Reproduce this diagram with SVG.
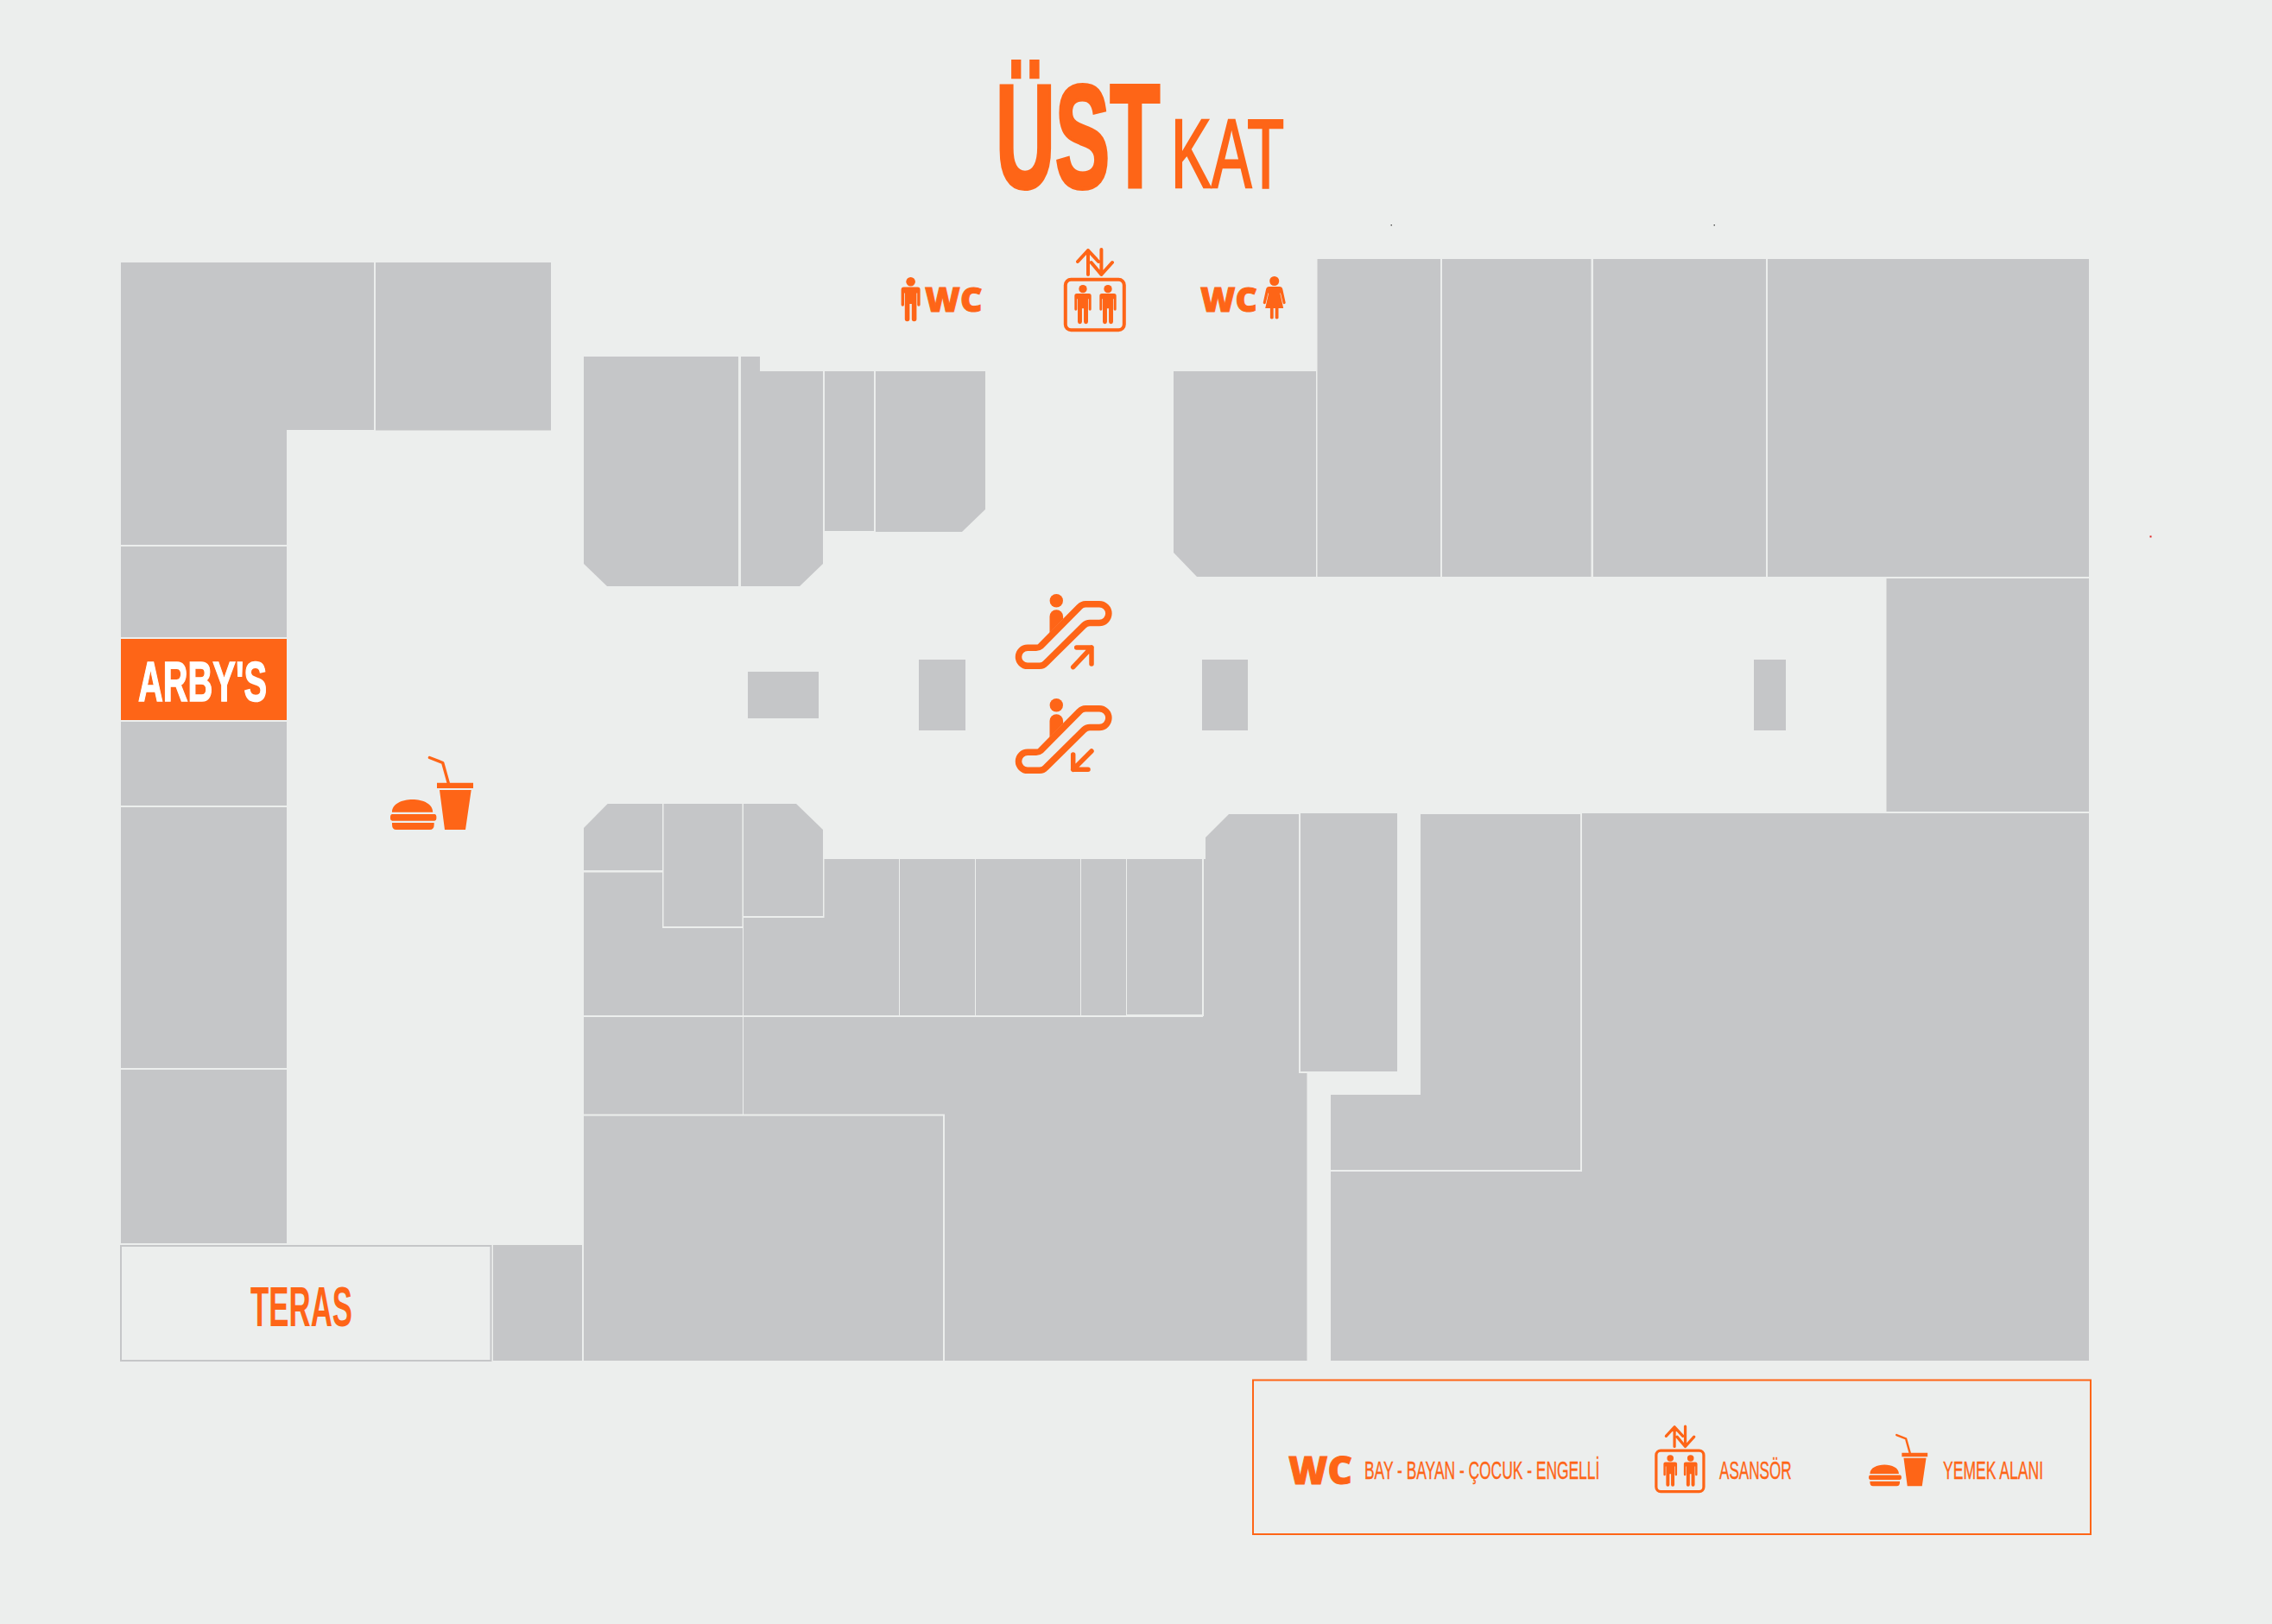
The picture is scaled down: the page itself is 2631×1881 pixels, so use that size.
<svg xmlns="http://www.w3.org/2000/svg" width="2631" height="1881" viewBox="0 0 2631 1881">
<style>
.b{fill:#c5c6c8}
.o{fill:#fe6517}
.ln{fill:none;stroke:#fe6517;stroke-linecap:round;stroke-linejoin:round}
text{font-family:"Liberation Sans",Arial,sans-serif;fill:#fe6517}
.bold{font-weight:700}
.wc{font-family:"Open Sans","Liberation Sans",sans-serif;font-weight:800;stroke:#fe6517;stroke-width:1px}
.leg{font-size:30px;stroke:#fe6517;stroke-width:.4px}
</style>
<defs>
<g id="man">
<circle cx="0" cy="5.3" r="5.3" class="o"/>
<path class="o" d="M-8 11.5H8Q11 11.5 11 14.5V32a1.7 1.7 0 0 1-3.4 0V18.5H6.8V48.5a2.8 2.8 0 0 1-5.6 0V31H-1.2V48.5a2.8 2.8 0 0 1-5.6 0V18.5H-7.6V32a1.7 1.7 0 0 1-3.4 0V14.5Q-11 11.5-8 11.5Z"/>
</g>
<g id="woman">
<circle cx="0" cy="5.5" r="5.5" class="o"/>
<path class="o" d="M-6 12H6Q9 12 9.6 15L13 30.5a1.6 1.6 0 0 1-3 .8L7.2 19.5H6.6L10.5 37H4.8V48.5a2.500 2.500 0 0 1-3.800 0V37H-1V48.5a2.500 2.500 0 0 1-3.800 0V37H-10.5L-6.6 19.5H-7.2L-10 31.3a1.6 1.6 0 0 1-3-.8L-9.6 15Q-9 12-6 12Z"/>
</g>
<g id="lift">
<rect x="1.8" y="34.8" width="68" height="58.5" rx="6.5" fill="none" stroke="#fe6517" stroke-width="4"/>
<use href="#man" transform="translate(22 41) scale(.88)"/>
<use href="#man" transform="translate(51 41) scale(.88)"/>
<path class="ln" stroke-width="4" d="M28 29V1M16 14L28 1L40 14M43.4 0V29M31.6 15L43.4 29L56 15"/>
</g>
<g id="food">
<path class="o" d="M1.3 64.7C1.3 55 13 50 25 50S48.5 55 48.5 64.7ZM1.5 67H50.5a2.2 3.8 0 0 1 0 7.7H1.5a2.2 3.8 0 0 1 0-7.7ZM1.3 77H50V79Q50 85 45 85H6.3Q1.3 85 1.3 79Z"/>
<path class="o" d="M53.3 30.8H95.3V37H53.3ZM56.3 39H93L86.3 85H62.3Z"/>
<path class="ln" stroke-width="3.4" stroke-linecap="butt" d="M44.7 1.5L60 7.5L66.5 30.8"/>
</g>
<g id="esc">
<circle cx="1223.3" cy="695.7" r="7.7" class="o"/>
<path class="o" d="M1215.5 714a7.8 7.8 0 0 1 15.6 0V717L1215.5 733Z"/>
<path class="ln" stroke-width="7.5" d="M1257 699.7H1273A10.9 10.9 0 0 1 1273 721.5H1262Q1258 721.5 1255 724.5L1211 768Q1208 771.3 1204 771.3H1190A10.5 10.5 0 0 1 1190 750.3H1200Q1203 750.3 1205 748.5L1250 703Q1253 699.7 1257 699.7Z"/>
</g>
</defs>
<rect width="2631" height="1881" fill="#eceeed"/>
<g id="title">
<text class="bold" transform="translate(1153 217) scale(.56 1)" font-size="170" stroke="#fe6517" stroke-width="4">ÜST</text>
<text transform="translate(1356 217) scale(.62 1)" font-size="113" stroke="#fe6517" stroke-width="2.500">KAT</text>
</g>
<g id="units-left">
<path id="u1" class="b" d="M140 304H433V498H332V631H140Z"/>
<rect id="u2" class="b" x="435" y="304" width="203" height="194.500"/>
<rect id="u3" class="b" x="140" y="633" width="192" height="105"/>
<g id="arbys"><rect class="o" x="140" y="740" width="192" height="94"/>
<text class="bold" x="160" y="812" font-size="64" style="fill:#fff" stroke="#fff" stroke-width="1.5" textLength="149" lengthAdjust="spacingAndGlyphs">ARBY'S</text></g>
<rect id="u4" class="b" x="140" y="836" width="192" height="97"/>
<rect id="u5" class="b" x="140" y="935" width="192" height="302"/>
<rect id="u6" class="b" x="140" y="1239" width="192" height="201"/>
<g id="teras"><rect x="140" y="1443" width="428.500" height="133" fill="#eceeed" stroke="#c5c6c8" stroke-width="2"/>
<text class="bold" x="290" y="1536" font-size="64" textLength="118" lengthAdjust="spacingAndGlyphs">TERAS</text></g>
<rect id="u7" class="b" x="571" y="1442" width="103" height="134"/>
</g>
<g id="units-centre">
<path id="a" class="b" d="M676 413H855V679H703L676 653Z"/>
<path id="b" class="b" d="M858 413H880V430H953V653L926 679H858Z"/>
<rect id="c" class="b" x="955" y="430" width="57" height="185"/>
<path id="d" class="b" d="M1014 430H1141V590L1114 616H1014Z"/>
<path id="e" class="b" d="M1359 430H1524V668H1386L1359 640Z"/>
<rect id="k1" class="b" x="866" y="778" width="82" height="54"/>
<rect id="k2" class="b" x="1064" y="764" width="54" height="82"/>
<rect id="k3" class="b" x="1392" y="764" width="53" height="82"/>
<rect id="k4" class="b" x="2031" y="764" width="37" height="82"/>
</g>
<g id="units-right">
<rect id="f" class="b" x="1525.500" y="300" width="142.500" height="368"/>
<rect id="g" class="b" x="1670" y="300" width="172.500" height="368"/>
<rect id="h" class="b" x="1845" y="300" width="200" height="368"/>
<rect id="i" class="b" x="2047" y="300" width="372" height="368"/>
<rect id="j" class="b" x="2184.500" y="670" width="234.500" height="270"/>
<path id="m" class="b" d="M1645 943H1830V1355H1541V1268H1645Z"/>
<path id="n" class="b" d="M1832 942H2419V1576H1541V1357H1832Z"/>
</g>
<g id="units-south">
<path id="s1" class="b" d="M703.600 931H767V1008H676V959Z"/>
<rect id="s2" class="b" x="768.500" y="931" width="91" height="142"/>
<path id="s3" class="b" d="M861 931H922L953 961V1061H861Z"/>
<path id="s4" class="b" d="M676 1010.500H767V1075H860V1176H676Z"/>
<path id="s5" class="b" d="M861 1063H954.500V995H1041V1176H861Z"/>
<rect id="s6" class="b" x="1042" y="995" width="87" height="181"/>
<rect id="s7" class="b" x="1130" y="995" width="121" height="181"/>
<rect id="s8" class="b" x="1252" y="995" width="52" height="181"/>
<rect id="s9" class="b" x="1305" y="995" width="87" height="180"/>
<rect id="s10" class="b" x="676" y="1178" width="184" height="112.500"/>
<rect id="s11" class="b" x="676" y="1292.500" width="416" height="283.500"/>
<path id="s12" class="b" d="M861 1178H1393V1177H1394V995H1396V970L1423 943H1504V1243H1513.500V1576H1094V1290.500H861Z"/>
<rect id="s13" class="b" x="1506" y="942" width="112" height="299"/>
</g>
<g id="wc-men"><use href="#man" transform="translate(1054.600 321)"/>
<text class="wc" x="1071" y="361" font-size="39" textLength="66.500" lengthAdjust="spacingAndGlyphs">WC</text></g>
<g id="wc-women"><use href="#woman" transform="translate(1475.700 320)"/>
<text class="wc" x="1390" y="361" font-size="39" textLength="66" lengthAdjust="spacingAndGlyphs">WC</text></g>
<g id="lift-main"><use href="#lift" transform="translate(1232 289)"/></g>
<g id="esc-up"><use href="#esc"/>
<path class="ln" stroke-width="5.500" d="M1242.700 772.700L1264 750M1246.700 750H1264V769"/></g>
<g id="esc-down"><use href="#esc" transform="translate(0 121)"/>
<path class="ln" stroke-width="5.500" d="M1264 870L1242.700 891.300M1242.700 874V891.300H1260"/></g>
<g id="food-main"><use href="#food" transform="translate(452.700 876)"/></g>
<g id="legend">
<rect x="1451" y="1598.500" width="970" height="178.500" fill="none" stroke="#fe6517" stroke-width="2"/>
<text class="wc" x="1492" y="1719" font-size="45" textLength="74" lengthAdjust="spacingAndGlyphs">WC</text>
<text class="leg" transform="translate(1580 1713) scale(.58 1)">BAY - BAYAN - ÇOCUK - ENGELLİ</text>
<use href="#lift" transform="translate(1916.400 1652) scale(.81)"/>
<text class="leg" transform="translate(1991 1713) scale(.57 1)">ASANSÖR</text>
<use href="#food" transform="translate(2164.500 1661) scale(.71)"/>
<text class="leg" transform="translate(2250 1713) scale(.585 1)">YEMEK ALANI</text>
</g>
<g id="specks">
<rect x="1610.500" y="260" width="1.500" height="1.500" fill="#555"/>
<rect x="1984.500" y="260" width="1.500" height="1.500" fill="#555"/>
<rect x="2489.500" y="620.500" width="2" height="2" fill="#e02020"/>
</g>
</svg>
